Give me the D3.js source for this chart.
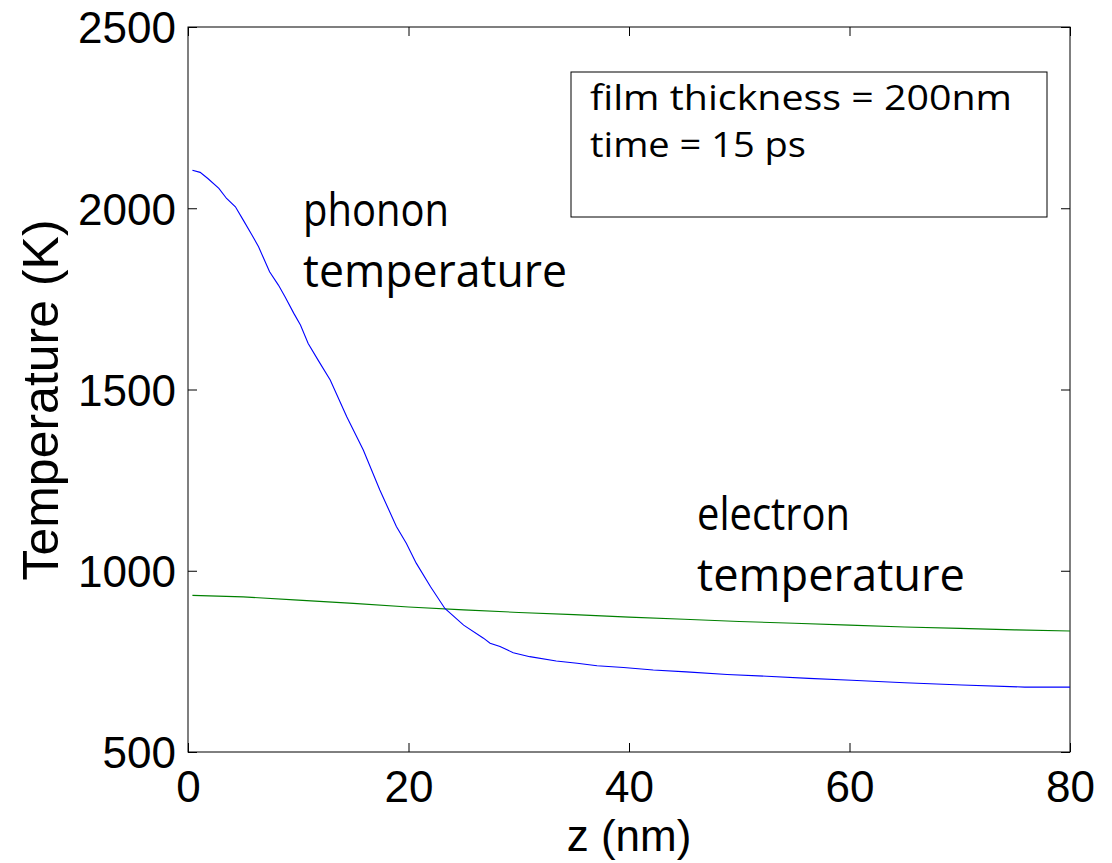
<!DOCTYPE html>
<html>
<head>
<meta charset="utf-8">
<script src="https://cdn.jsdelivr.net/npm/d3@7"></script>
<style>
  html, body { margin: 0; padding: 0; background: #fff; }
  svg { display: block; }
</style>
</head>
<body>
<svg id="chart" width="1112" height="863"></svg>
<script>
// Phonon (lattice) temperature profile through the film
const phononZ = [0.4, 1.1, 1.8, 2.8, 3.5, 4.3, 5.0, 5.8, 6.4, 6.8, 7.4, 8.2, 8.8, 9.6, 10.2, 10.9, 11.8,
  12.9, 14.4, 15.9, 17.4, 18.9, 19.8, 20.7, 22.0, 23.3, 25.0, 26.8, 27.4, 28.3, 29.5, 31.0,
  33.4, 35.3, 37.1, 39.5, 42.2, 45.2, 48.9, 52.5, 56.3, 60.2, 65.0, 70.2, 75.9, 80];
const phononT = [2105, 2099, 2082, 2055, 2027, 2004, 1968, 1926, 1894, 1866, 1825, 1788, 1756, 1710, 1678, 1627, 1581,
  1526, 1425, 1333, 1223, 1122, 1076, 1021, 956, 896, 850, 814, 800, 791, 774, 763,
  751, 745, 738, 733, 726, 721, 714, 709, 703, 698, 691, 685, 679, 679];

// Electron temperature profile through the film
const electronZ = [0.4, 5, 10, 15, 20, 25, 30, 35, 40, 45, 50, 55, 60, 65, 70, 75, 80];
const electronT = [932, 928, 919, 910, 900, 892, 885, 879, 872, 866, 860, 855, 850, 845, 841, 837, 834];

// Axis settings
const xDomain = [0, 80];
const yDomain = [500, 2500];
const xTicks = [0, 20, 40, 60, 80];
const yTicks = [500, 1000, 1500, 2000, 2500];

// Annotation text
const infoLines = ["film thickness = 200nm", "time = 15 ps"];
const phononLabel = ["phonon", "temperature"];
const electronLabel = ["electron", "temperature"];

const svg = d3.select("#chart");
const plot = { left: 188, top: 27, right: 1070, bottom: 752 };

const x = d3.scaleLinear().domain(xDomain).range([plot.left, plot.right]);
const y = d3.scaleLinear().domain(yDomain).range([plot.bottom, plot.top]);

const tickFont = "'Liberation Sans', Arial, sans-serif";
const noteFont = "'Open Sans', 'Noto Sans', sans-serif";
const tickLen = 9;
const plainNum = d3.format("d");

// Frame
svg.append("rect")
  .attr("x", plot.left).attr("y", plot.top)
  .attr("width", plot.right - plot.left).attr("height", plot.bottom - plot.top)
  .attr("fill", "none").attr("stroke", "#000").attr("stroke-width", 1);

// Inward ticks on all four sides
const bottomAxis = d3.axisBottom(x).tickValues(xTicks).tickSize(-tickLen).tickFormat(plainNum);
const topAxis = d3.axisTop(x).tickValues(xTicks).tickSize(-tickLen).tickFormat("");
const leftAxis = d3.axisLeft(y).tickValues(yTicks).tickSize(-tickLen).tickPadding(12).tickFormat(plainNum);
const rightAxis = d3.axisRight(y).tickValues(yTicks).tickSize(-tickLen).tickFormat("");

function styleAxis(g) {
  g.select(".domain").remove();
  g.selectAll(".tick line").attr("stroke", "#000").attr("stroke-width", 1);
  g.selectAll(".tick text")
    .attr("font-family", tickFont)
    .attr("font-size", 44)
    .attr("fill", "#000");
}

svg.append("g").attr("transform", `translate(0,${plot.bottom})`).call(bottomAxis).call(styleAxis)
  .selectAll(".tick text").attr("dy", null).attr("y", 50);
svg.append("g").attr("transform", `translate(0,${plot.top})`).call(topAxis).call(styleAxis);
svg.append("g").attr("transform", `translate(${plot.left},0)`).call(leftAxis).call(styleAxis)
  .selectAll(".tick text").attr("dy", "0.36em");
svg.append("g").attr("transform", `translate(${plot.right},0)`).call(rightAxis).call(styleAxis);

// Axis titles
svg.append("text")
  .attr("x", (plot.left + plot.right) / 2).attr("y", 851)
  .attr("text-anchor", "middle")
  .attr("font-family", tickFont).attr("font-size", 44)
  .text("z (nm)");

svg.append("text")
  .attr("transform", `translate(58,400) rotate(-90)`)
  .attr("text-anchor", "middle")
  .attr("font-family", tickFont).attr("font-size", 50)
  .text("Temperature (K)");

// Curves
const line = d3.line().x(d => x(d[0])).y(d => y(d[1]));

svg.append("path")
  .datum(electronZ.map((z, i) => [z, electronT[i]]))
  .attr("d", line)
  .attr("fill", "none").attr("stroke", "#008000").attr("stroke-width", 1.1);

svg.append("path")
  .datum(phononZ.map((z, i) => [z, phononT[i]]))
  .attr("d", line)
  .attr("fill", "none").attr("stroke", "#0000ff").attr("stroke-width", 1.1);

// Info box
svg.append("rect")
  .attr("x", 571).attr("y", 72).attr("width", 476).attr("height", 145)
  .attr("fill", "#fff").attr("stroke", "#000").attr("stroke-width", 1);

const infoWidths = [422, 216];
infoLines.forEach((t, i) => {
  svg.append("text")
    .attr("x", 590).attr("y", 110 + i * 47)
    .attr("font-family", noteFont).attr("font-size", 35)
    .attr("textLength", infoWidths[i]).attr("lengthAdjust", "spacingAndGlyphs")
    .text(t);
});

// Curve labels
function addLabel(lines, widths, x0, y0) {
  lines.forEach((t, i) => {
    svg.append("text")
      .attr("x", x0).attr("y", y0 + i * 61)
      .attr("font-family", noteFont).attr("font-size", 46)
      .attr("textLength", widths[i]).attr("lengthAdjust", "spacingAndGlyphs")
      .text(t);
  });
}
addLabel(phononLabel, [146, 264], 303, 226);
addLabel(electronLabel, [153, 268], 697, 530);
</script>
</body>
</html>
